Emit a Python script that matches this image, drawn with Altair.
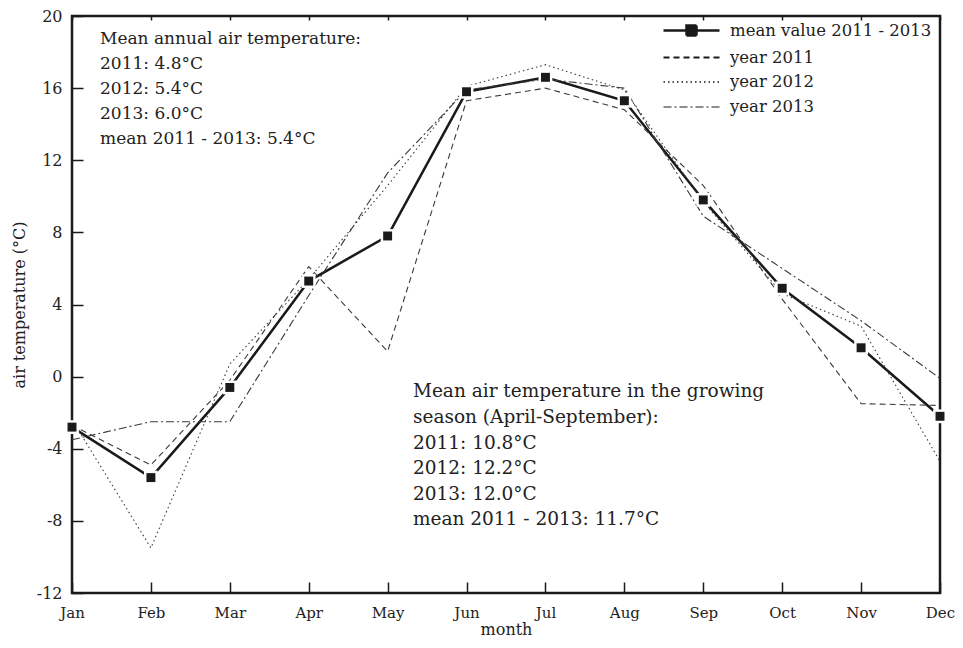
import altair as alt
import pandas as pd

months = ["Jan", "Feb", "Mar", "Apr", "May", "Jun", "Jul", "Aug", "Sep", "Oct", "Nov", "Dec"]
series_names = ["mean value 2011 - 2013", "year 2011", "year 2012", "year 2013"]
mean_vals = [-2.8, -5.6, -0.6, 5.3, 7.8, 15.8, 16.6, 15.3, 9.8, 4.9, 1.6, -2.2]
y2011 = [-2.7, -4.9, -0.2, 6.1, 1.4, 15.3, 16.0, 14.8, 10.6, 4.3, -1.5, -1.6]
y2012 = [-2.4, -9.5, 0.7, 5.4, 10.6, 16.1, 17.3, 15.9, 9.7, 4.6, 2.8, -4.7]
y2013 = [-3.5, -2.5, -2.5, 4.5, 11.3, 15.9, 16.5, 16.0, 8.9, 6.0, 3.1, -0.1]
y_ticks = [-12, -8, -4, 0, 4, 8, 12, 16, 20]

annual_lines = ["Mean annual air temperature:", "2011: 4.8°C", "2012: 5.4°C",
                "2013: 6.0°C", "mean 2011 - 2013: 5.4°C"]
season_lines = ["Mean air temperature in the growing", "season (April-September):",
                "2011: 10.8°C", "2012: 12.2°C", "2013: 12.0°C", "mean 2011 - 2013: 11.7°C"]

FONT = "DejaVu Serif"
FS = 16
INK = "#1a1a1a"
GREY = "#3a3a3a"
TXT = "#222222"

rows = []
for name, vals in zip(series_names, [mean_vals, y2011, y2012, y2013]):
    for i, v in enumerate(vals):
        rows.append({"series": name, "m": i + 1, "t": v})
df = pd.DataFrame(rows)

month_arr = "[" + ",".join("'%s'" % m for m in months) + "]"
xscale = alt.Scale(domain=[1, 12], nice=False, zero=False)
yscale = alt.Scale(domain=[-12, 20], nice=False, zero=False)

x_bottom = alt.X("m:Q", scale=xscale, axis=alt.Axis(
    orient="bottom", values=list(range(1, 13)), labelExpr=month_arr + "[datum.value-1]",
    offset=-11, tickSize=11, domain=False, grid=False, title="month", labelFlush=False,
    labelFontSize=15, labelPadding=12, titlePadding=1))
y_left = alt.Y("t:Q", scale=yscale, axis=alt.Axis(
    orient="left", values=y_ticks, labelExpr="'' + datum.value", labelFlush=False,
    offset=-11, tickSize=11, domain=False, grid=False, title="air temperature (°C)",
    labelPadding=10, titlePadding=9))
x_plain = alt.X("m:Q", scale=xscale, axis=None)
y_plain = alt.Y("t:Q", scale=yscale, axis=None)

base = alt.Chart(df)

mean_line = base.transform_filter(alt.datum.series == series_names[0]).mark_line(
    color=INK, strokeWidth=2.5).encode(x=x_bottom, y=y_left)

dash_styles = {series_names[1]: [6, 4], series_names[2]: [1.5, 3], series_names[3]: [8, 3, 2, 3]}
year_layers = []
for name in series_names[1:]:
    year_layers.append(
        base.transform_filter(alt.datum.series == name).mark_line(
            color=GREY, strokeWidth=1.1, strokeDash=dash_styles[name]).encode(x=x_plain, y=y_plain))

halo = base.transform_filter(alt.datum.series == series_names[0]).mark_point(
    shape="square", filled=True, color="white", size=190, opacity=1).encode(x=x_plain, y=y_plain)
squares = base.transform_filter(alt.datum.series == series_names[0]).mark_point(
    shape="square", filled=True, color=INK, size=80, opacity=1).encode(x=x_plain, y=y_plain)

top_axis = base.transform_filter(alt.datum.series == series_names[0]).mark_line(opacity=0).encode(
    x=alt.X("m:Q", scale=xscale, axis=alt.Axis(orient="top", values=list(range(1, 13)), labels=False,
                                                offset=-4, tickSize=4, domain=False, grid=False, title=None)),
    y=y_plain)

# legend built from the scales (the layer itself draws no marks)
mean_path = "M-2.8,0H2.8M-0.5,-0.5H0.5V0.5H-0.5Z"
line_path = "M-2.8,0H2.8"
leg = dict(title=None, orient="none", legendX=608, legendY=3, symbolSize=400, labelOffset=27,
           rowPadding=5, padding=0, labelFont=FONT, labelFontSize=16.5, labelColor=TXT, labelLimit=400)
legend_layer = base.transform_filter("false").mark_point(
    filled=True, fill=INK, stroke=INK, opacity=1).encode(
    x=x_plain, y=y_plain,
    shape=alt.Shape("series:N", scale=alt.Scale(domain=series_names,
                                                range=[mean_path, line_path, line_path, line_path]),
                    legend=alt.Legend(**leg)),
    strokeDash=alt.StrokeDash("series:N", scale=alt.Scale(domain=series_names,
                                                          range=[[1, 0], [6, 4], [1.5, 3], [8, 3, 2, 3]]),
                              legend=alt.Legend(**leg)),
    strokeWidth=alt.StrokeWidth("series:N", scale=alt.Scale(domain=series_names, range=[2.5, 1.1, 1.1, 1.1]),
                                legend=alt.Legend(**leg)),
)

notes1 = pd.DataFrame({"m": [1.355], "t": [18.45], "txt": ["\n".join(annual_lines)]})
notes2 = pd.DataFrame({"m": [5.321], "t": [-1.15], "txt": ["\n".join(season_lines)]})
note1 = alt.Chart(notes1).mark_text(
    align="left", baseline="alphabetic", lineBreak="\n", lineHeight=24.9,
    font=FONT, fontSize=17, color=TXT).encode(x=x_plain, y=y_plain, text="txt:N")
note2 = alt.Chart(notes2).mark_text(
    align="left", baseline="alphabetic", lineBreak="\n", lineHeight=25.6,
    font=FONT, fontSize=18.5, color=TXT).encode(x=x_plain, y=y_plain, text="txt:N")

chart = alt.layer(
    mean_line, *year_layers, halo, squares, top_axis, legend_layer, note1, note2
).resolve_axis(x="independent", y="independent").properties(
    width=868, height=577,
    padding={"left": 64, "top": 8, "right": 15, "bottom": 47},
    autosize=alt.AutoSizeParams(type="none"),
    background="white",
).configure_view(stroke=INK, strokeWidth=2.5).configure_axis(
    labelFont=FONT, labelFontSize=FS, labelColor=TXT, titleFont=FONT, titleFontSize=FS,
    titleFontWeight="normal", titleColor=TXT, tickColor=INK, tickWidth=1.5
)

chart.save("out.html", embed_options={"renderer": "svg", "actions": False})
